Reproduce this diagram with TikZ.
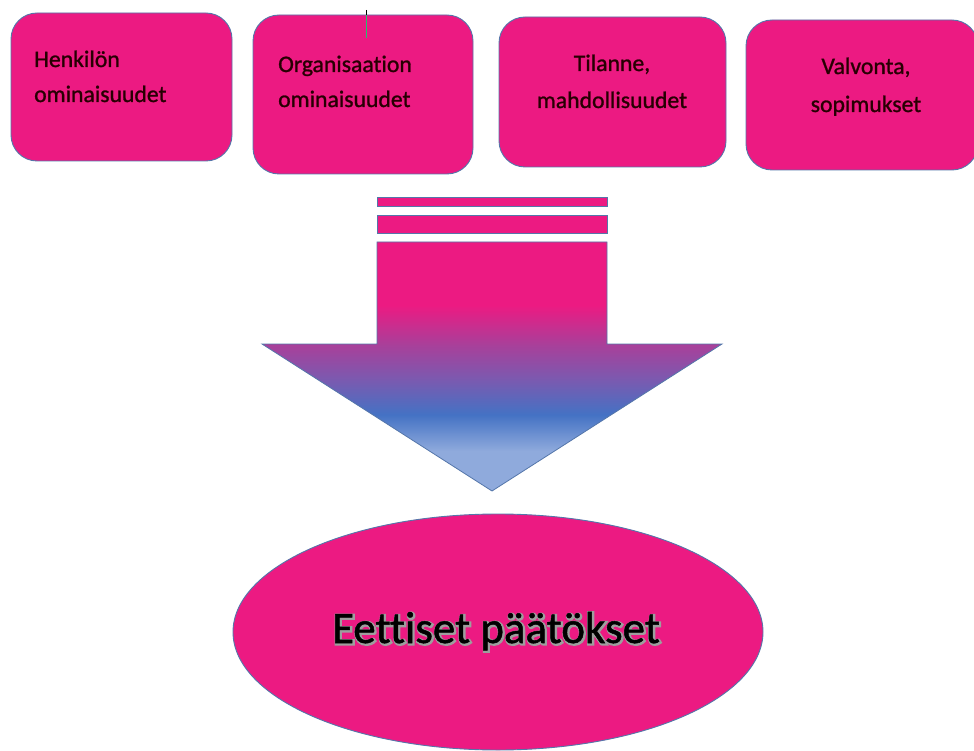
\documentclass[tikz,border=0pt]{standalone}
\usepackage{fontspec}
\usetikzlibrary{shapes.geometric}
\setmainfont{Carlito}[Ligatures=NoCommon]
\definecolor{pinkfill}{RGB}{236,26,130}
\definecolor{edgeblue}{RGB}{84,118,170}
\definecolor{midpurple}{RGB}{168,64,154}
\definecolor{violettwo}{RGB}{122,90,176}
\definecolor{blueone}{RGB}{68,114,196}
\definecolor{lightblue}{RGB}{143,170,220}
\definecolor{tickgreen}{RGB}{40,190,110}
\pgfdeclareverticalshading{arrowshade}{100bp}{color(0bp)=(lightblue); color(33bp)=(lightblue); color(40.3bp)=(blueone); color(47.3bp)=(violettwo); color(54.3bp)=(midpurple); color(62.3bp)=(pinkfill); color(100bp)=(pinkfill)}
\newcommand{\glowtext}[1]{\special{pdf:code 2 Tr 3.2 w 0.62 G 0.62 g}#1\special{pdf:code 0 Tr}}
\newcommand{\boldtext}[1]{\special{pdf:code 2 Tr 0.5 w 0 G}#1\special{pdf:code 0 Tr}}
\newcommand{\semitext}[1]{\special{pdf:code 2 Tr 0.3 w 0.2 0 0.05 RG}#1\special{pdf:code 0 Tr}}
\tikzset{
  box/.style={draw=edgeblue, line width=0.9pt, fill=pinkfill, rounded corners=26pt, inner sep=0pt, rectangle},
  lbl/.style={inner sep=0pt, font=\fontsize{23.7}{28}\selectfont, text=black!85!red},
  bar/.style={draw=edgeblue, line width=0.8pt, fill=pinkfill},
  big/.style={inner sep=0pt, font=\fontsize{45}{50}\selectfont},
}
\begin{document}
\begin{tikzpicture}[x=1pt,y=-1pt]
\useasboundingbox (0,0) rectangle (974,751);
% boxes
\node[box, minimum width=221pt, minimum height=148pt] (b1) at (121.5,87) {};
\node[box, minimum width=220pt, minimum height=159pt] (b2) at (363,94.5) {};
\node[box, minimum width=227pt, minimum height=150pt] (b3) at (612.5,92) {};
\node[box, minimum width=232pt, minimum height=150pt] (b4) at (862,95) {};
% stray tick mark
\coordinate (k1) at (366,10);
\coordinate (k2) at (366,15);
\coordinate (k3) at (366,38);
\draw[black, line width=1pt] (k1) -- (k2);
\draw[tickgreen, line width=1pt] (k2) -- (k3);
% labels
\node[lbl, anchor=base west] (t1a) at (34,67) {\semitext{Henkilön}};
\node[lbl, anchor=base west] (t1b) at (34,102) {\semitext{ominaisuudet}};
\node[lbl, anchor=base west] (t2a) at (278,72) {\semitext{Organisaation}};
\node[lbl, anchor=base west] (t2b) at (278,107) {\semitext{ominaisuudet}};
\node[lbl, anchor=base] (t3a) at (612,71) {\semitext{Tilanne,}};
\node[lbl, anchor=base] (t3b) at (612,108) {\semitext{mahdollisuudet}};
\node[lbl, anchor=base] (t4a) at (866,74) {\semitext{Valvonta,}};
\node[lbl, anchor=base] (t4b) at (866,112) {\semitext{sopimukset}};
% arrow
\path[bar] (377,197) rectangle (607,206);
\path[bar] (377,215) rectangle (607,233);
\path[shading=arrowshade, draw=edgeblue, line width=0.8pt]
  (377,242) -- (607,242) -- (607,344) -- (722,344) -- (492,491) -- (262,344) -- (377,344) -- cycle;
% ellipse
\node[draw=edgeblue, line width=0.9pt, fill=pinkfill, ellipse, minimum width=530pt, minimum height=236pt, inner sep=0pt] (e) at (498,632) {};
\node[big, anchor=base, text=black!60] (etglow) at (497,644) {\glowtext{Eettiset päätökset}};
\node[big, anchor=base, text=black] (et) at (496,643) {\boldtext{Eettiset päätökset}};
\end{tikzpicture}
\end{document}
